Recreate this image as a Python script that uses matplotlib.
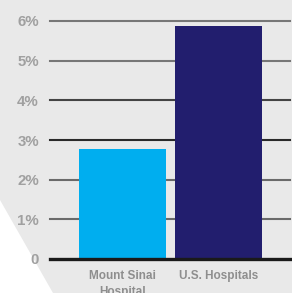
import matplotlib
matplotlib.use("Agg")
import matplotlib.pyplot as plt
from matplotlib.patches import Polygon

categories = ["Mount Sinai\nHospital", "U.S. Hospitals"]
values = [2.78, 5.88]
colors = ["#00aeef", "#221e6e"]
yticks = [0, 1, 2, 3, 4, 5, 6]
ytick_labels = ["0", "1%", "2%", "3%", "4%", "5%", "6%"]
grid_colors = ["#1a1a1a", "#6a6a6a", "#6a6a6a", "#2a2a2a", "#444444", "#777777", "#777777"]

W, H = 292, 293
fig = plt.figure(figsize=(W / 100, H / 100), dpi=100)
fig.patch.set_facecolor("white")

# background shape
bg = fig.add_axes([0, 0, 1, 1])
bg.set_xlim(0, W)
bg.set_ylim(H, 0)
bg.axis("off")
bg.add_patch(Polygon([(0, 0), (W, 0), (W, H), (53, H), (0, 200)], closed=True,
                     facecolor="#e9e9e9", edgecolor="none"))

ax = fig.add_axes([50 / W, (H - 259) / H, 240 / W, (259 - 21) / H])
ax.patch.set_alpha(0)
ax.set_xlim(-0.755, 1.745)
ax.set_ylim(0, 6)

for y, c in zip(yticks, grid_colors):
    lw = 2.4 if y == 0 else 1.5
    ax.axhline(y, color=c, lw=lw, zorder=1 if y else 3, clip_on=False)

x = list(range(len(categories)))
ax.bar(x, values, width=0.906, color=colors, zorder=2)

for s in ax.spines.values():
    s.set_visible(False)
ax.set_yticks(yticks)
ax.set_yticklabels(ytick_labels, fontsize=10.8, fontweight="bold", color="#a0a0a0",
                   family="Liberation Sans")
ax.tick_params(axis="y", length=0, pad=8)
ax.set_xticks(x)
ax.set_xticklabels(categories, fontsize=8.5, fontweight="bold", color="#8e8e8e",
                   family="Liberation Sans", linespacing=1.45)
ax.tick_params(axis="x", length=0, pad=8)

fig.savefig("out.png", dpi=100)
